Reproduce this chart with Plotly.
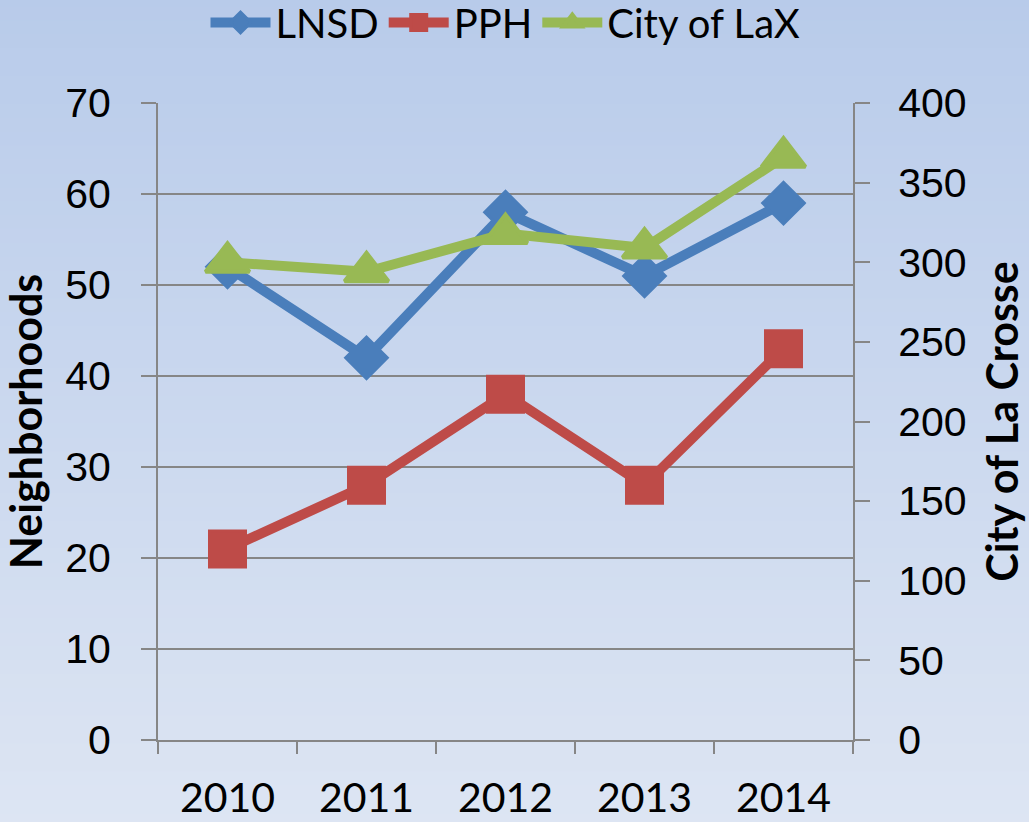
import plotly.graph_objects as go

years = ["2010", "2011", "2012", "2013", "2014"]
lnsd = [52, 42, 58, 51, 59]
pph = [21, 28, 38, 28, 43]
city_lax = [300, 294, 318, 309, 366]

left_ticks = [0, 10, 20, 30, 40, 50, 60, 70]
right_ticks = [0, 50, 100, 150, 200, 250, 300, 350, 400]

W, H = 1029, 822
ml, mr, mt, mb = 158, 176, 103, 82

fig = go.Figure()
fig.add_trace(go.Scatter(x=years, y=lnsd, name="LNSD", mode="lines+markers",
                         line=dict(color="#4a7ebb", width=10),
                         marker=dict(symbol="diamond", size=32, color="#4a7ebb",
                                     line=dict(color="#4a7ebb", width=3))))
fig.add_trace(go.Scatter(x=years, y=pph, name="PPH", mode="lines+markers",
                         line=dict(color="#be4b48", width=10),
                         marker=dict(symbol="square", size=36, color="#be4b48",
                                     line=dict(color="#be4b48", width=3))))
fig.add_trace(go.Scatter(x=years, y=city_lax, name="City of LaX", mode="lines+markers",
                         yaxis="y2",
                         line=dict(color="#98b954", width=10),
                         marker=dict(symbol="triangle-up", size=38, color="#98b954",
                                     line=dict(color="#98b954", width=4))))

# background gradient
top = (184, 203, 234)
bot = (221, 229, 243)
n = 60
shapes = []
ph = H - mt - mb
pw = W - ml - mr
y0p = -mb / ph - 0.01
y1p = 1 + mt / ph + 0.01
x0p = -ml / pw - 0.01
x1p = 1 + mr / pw + 0.01
for i in range(n):
    t = i / (n - 1)
    c = tuple(round(top[k] + (bot[k] - top[k]) * t) for k in range(3))
    ya = y1p - (y1p - y0p) * i / n
    yb = y1p - (y1p - y0p) * (i + 1) / n
    shapes.append(dict(type="rect", xref="paper", yref="paper", x0=x0p, x1=x1p,
                       y0=yb, y1=ya + 0.002, fillcolor="rgb(%d,%d,%d)" % c,
                       line=dict(width=0), layer="below"))

tickfont = dict(family="Liberation Sans", size=41, color="#000000")
titlefont = dict(family="Lato", size=43, color="#000000")
fig.update_layout(
    width=W, height=H,
    margin=dict(l=ml, r=mr, t=mt, b=mb, autoexpand=False),
    paper_bgcolor="rgb(200,214,238)",
    plot_bgcolor="rgba(0,0,0,0)",
    shapes=shapes,
    showlegend=True,
    legend=dict(orientation="h", x=0.5, xanchor="center", y=1 + (mt + 10) / ph,
                yanchor="top", font=dict(family="Lato", size=40, color="#000000"),
                bgcolor="rgba(0,0,0,0)", itemwidth=60, tracegroupgap=0),
    xaxis=dict(type="category", tickfont=dict(family="Lato", size=41, color="#000000"),
               showline=True, linecolor="#868686", linewidth=2,
               ticks="outside", ticklen=12, tickcolor="#868686", tickwidth=2,
               tickson="boundaries", showgrid=False, ticklabelstandoff=21,
               range=[-0.5, 4.5], automargin=False),
    yaxis=dict(range=[0, 70], tickvals=left_ticks, tickfont=tickfont,
               showline=True, linecolor="#868686", linewidth=2,
               ticks="outside", ticklen=15, tickcolor="#868686", tickwidth=2,
               showgrid=True, gridcolor="#868686", gridwidth=2, zeroline=False,
               ticklabelstandoff=22, automargin=False,
               title=dict(text="<b>Neighborhoods</b>", font=titlefont, standoff=13)),
    yaxis2=dict(range=[0, 400], tickvals=right_ticks, tickfont=tickfont, overlaying="y", side="right",
                showline=True, linecolor="#868686", linewidth=2,
                ticks="outside", ticklen=15, tickcolor="#868686", tickwidth=2,
                showgrid=False, zeroline=False, ticklabelstandoff=20, automargin=False,
                title=dict(text="<b>City of La Crosse</b>", font=titlefont, standoff=22)),
)

fig.write_html("out.html", config={"displayModeBar": False},
               post_script="document.body.style.margin='0';document.body.style.overflow='hidden';")
